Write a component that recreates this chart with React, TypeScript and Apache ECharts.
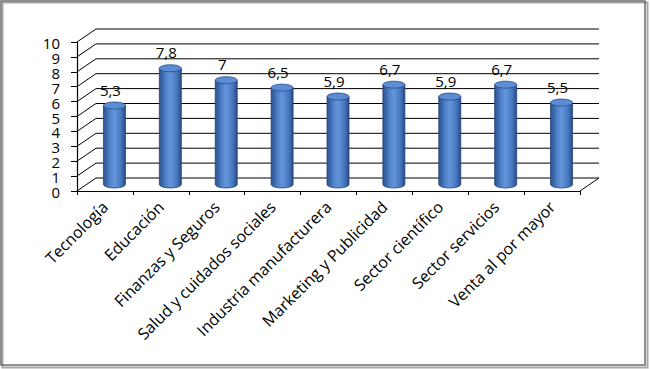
import React, { useEffect, useRef } from "react";
import * as echarts from "echarts";

const categories = [
  "Tecnología",
  "Educación",
  "Finanzas y Seguros",
  "Salud y cuidados sociales",
  "Industria manufacturera",
  "Marketing y Publicidad",
  "Sector científico",
  "Sector servicios",
  "Venta al por mayor",
];
const values = [5.3, 7.8, 7, 6.5, 5.9, 6.7, 5.9, 6.7, 5.5];
const yTicks = [0, 1, 2, 3, 4, 5, 6, 7, 8, 9, 10];

const FONT = "Open Sans";
const DX = 19;
const DY = -13;

export default function App() {
  const ref = useRef<HTMLDivElement>(null);
  useEffect(() => {
    if (!ref.current) return;
    const chart = echarts.init(ref.current, null, { renderer: "svg" });
    const option: any = {
      animation: false,
      backgroundColor: "#ffffff",
      textStyle: { fontFamily: FONT },
      grid: { left: 77, right: 70, top: 42, bottom: 178, containLabel: false },
      xAxis: {
        type: "category",
        data: categories,
        axisLine: { show: true, lineStyle: { color: "#000", width: 1.2 } },
        axisTick: { show: true, length: 4, interval: 0, lineStyle: { color: "#000" } },
        axisLabel: {
          interval: 0,
          rotate: 45,
          fontSize: 16,
          color: "#000",
          fontFamily: FONT,
          margin: 13,
          hideOverlap: false,
        },
        splitLine: { show: false },
      },
      yAxis: {
        type: "value",
        min: 0,
        max: 10,
        interval: 1,
        axisLine: { show: true, lineStyle: { color: "#000", width: 1.2 } },
        axisTick: { show: true, length: 6, lineStyle: { color: "#000" } },
        axisLabel: { show: false },
        splitLine: { show: false },
      },
      graphic: [
        {
          type: "rect",
          shape: { x: 2.5, y: 2.5, width: 645, height: 365 },
          style: { fill: "none", stroke: "#a8a8a8", lineWidth: 2 },
          z: 100,
        },
        {
          type: "rect",
          shape: { x: 1, y: 1, width: 644, height: 364 },
          style: { fill: "none", stroke: "#6e6e6e", lineWidth: 1.5 },
          z: 101,
        },
      ],
      series: [
        {
          type: "custom",
          z: 1,
          silent: true,
          data: yTicks.map((v) => [0, v]),
          encode: { x: 0, y: 1 },
          renderItem: (params: any, api: any) => {
            const cs = params.coordSys;
            const v = api.value(1);
            const y = api.coord([0, v])[1];
            const left = cs.x;
            const right = cs.x + cs.width;
            const children: any[] = [
              {
                type: "line",
                shape: { x1: left, y1: y, x2: left + DX, y2: y + DY },
                style: { stroke: "#000", lineWidth: 1 },
              },
              {
                type: "line",
                shape: { x1: left + DX, y1: y + DY, x2: right + DX, y2: y + DY },
                style: { stroke: "#000", lineWidth: 1 },
              },
              {
                type: "text",
                style: {
                  x: left - 17,
                  y: y + 1,
                  text: String(v),
                  fill: "#000",
                  fontSize: 15,
                  lineHeight: 13,
                  fontFamily: FONT,
                  align: "right",
                  verticalAlign: "middle",
                },
              },
            ];
            if (v === 0) {
              children.push({
                type: "line",
                shape: { x1: right, y1: y, x2: right + DX, y2: y + DY },
                style: { stroke: "#000", lineWidth: 1 },
              });
            }
            return { type: "group", children };
          },
        },
        {
          type: "custom",
          z: 5,
          data: values.map((v, i) => [i, v]),
          encode: { x: 0, y: 1 },
          renderItem: (params: any, api: any) => {
            const i = api.value(0);
            const v = api.value(1);
            const base = api.coord([i, 0]);
            const top = api.coord([i, v]);
            const cx = base[0] + DX / 2;
            const by = base[1] + DY / 2;
            const ty = top[1] + DY / 2;
            const rx = 11;
            const ry = 3.5;
            const body = `M${cx - rx},${ty} L${cx - rx},${by} A${rx},${ry} 0 0 0 ${cx + rx},${by} L${cx + rx},${ty} Z`;
            const label = String(v).replace(".", ",");
            return {
              type: "group",
              children: [
                {
                  type: "path",
                  shape: { pathData: body },
                  style: {
                    fill: new echarts.graphic.LinearGradient(0, 0, 1, 0, [
                      { offset: 0, color: "#2a518f" },
                      { offset: 0.3, color: "#4f82c9" },
                      { offset: 0.5, color: "#6496db" },
                      { offset: 0.8, color: "#4677be" },
                      { offset: 1, color: "#284a82" },
                    ]),
                    stroke: "#244479",
                    lineWidth: 0.8,
                  },
                },
                {
                  type: "ellipse",
                  shape: { cx, cy: ty, rx, ry },
                  style: { fill: "#5c8dd4", stroke: "#274c86", lineWidth: 0.8 },
                },
                {
                  type: "text",
                  style: {
                    x: cx - 4,
                    y: ty - 16,
                    text: label,
                    fill: "#000",
                    fontSize: 15,
                    fontFamily: FONT,
                    align: "center",
                    verticalAlign: "middle",
                  },
                },
              ],
            };
          },
        },
      ],
    };
    chart.setOption(option);
    return () => chart.dispose();
  }, []);
  return (
    <div
      ref={ref}
      style={{ position: "absolute", left: 0, top: 0, width: 650, height: 369 }}
    />
  );
}
